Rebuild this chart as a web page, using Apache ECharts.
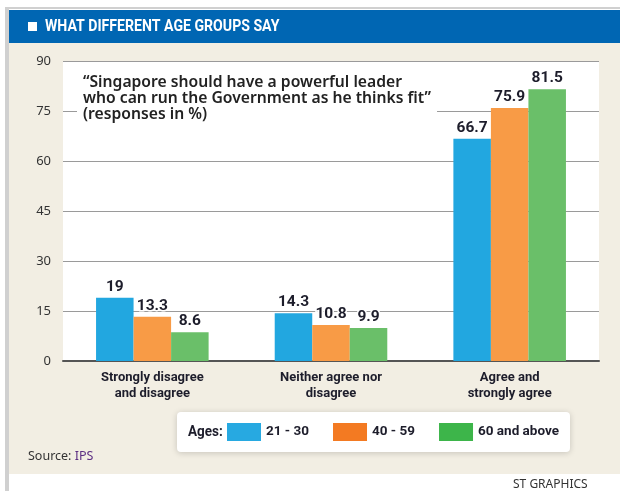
<!DOCTYPE html>
<html><head><meta charset="utf-8">
<script src="https://cdn.jsdelivr.net/npm/echarts@6/dist/echarts.min.js"></script>
<style>html,body{margin:0;padding:0;background:#fff}#c{width:620px;height:491px}</style>
</head><body><div id="c"></div>
<script>
const categories = ['Strongly disagree\nand disagree', 'Neither agree nor\ndisagree', 'Agree and\nstrongly agree'];
const seriesNames = ['21 - 30', '40 - 59', '60 and above'];
const age21to30 = [19, 14.3, 66.7];
const age40to59 = [13.3, 10.8, 75.9];
const age60plus = [8.6, 9.9, 81.5];
const yMin = 0, yMax = 90, yStep = 15;
const titleText = 'WHAT DIFFERENT AGE GROUPS SAY';
const noteText = '\u201cSingapore should have a powerful leader\nwho can run the Government as he thinks fit\u201d\n(responses in %)';

const COND = "Roboto,sans-serif";
const barColors = ['#22A7E0', '#F89B46', '#6ABF69'];
const legendColors = ['#27A9E1', '#F37A22', '#3DB54A'];
const values = [age21to30, age40to59, age60plus];

const chart = echarts.init(document.getElementById('c'));
chart.setOption({
  backgroundColor: '#ffffff',
  animation: false,
  grid: { left: 63, right: 21, top: 61, bottom: 130, containLabel: false },
  xAxis: {
    type: 'category', data: categories,
    axisLine: { lineStyle: { color: '#555', width: 2 } },
    axisTick: { show: false },
    axisLabel: { margin: 9, color: '#1d1d2b', fontFamily: COND, fontSize: 13, lineHeight: 16, fontWeight: 'bold' }
  },
  yAxis: {
    type: 'value', min: yMin, max: yMax, interval: yStep,
    axisLine: { show: false }, axisTick: { show: false },
    splitLine: { lineStyle: { color: '#9a9a9a', width: 1.2 } },
    axisLabel: { margin: 12, color: '#333', fontFamily: "'Noto Sans',sans-serif", fontSize: 13 }
  },
  legend: {
    left: 177, top: 412,
    padding: [11, 11, 11, 50],
    backgroundColor: '#fff', borderRadius: 4,
    shadowBlur: 6, shadowColor: 'rgba(0,0,0,0.18)', shadowOffsetY: 1,
    itemWidth: 34, itemHeight: 18, itemGap: 24,
    icon: 'rect',
    textStyle: { color: '#1d1d2b', fontFamily: COND, fontSize: 13.5, fontWeight: 'bold' },
    data: seriesNames.map((n, i) => ({ name: n, itemStyle: { color: legendColors[i] } }))
  },
  graphic: [
    { type: 'rect', z: -10, shape: { x: 5, y: 7, width: 615, height: 484 }, style: { fill: '#d0d0d0' } },
    { type: 'rect', z: -9, shape: { x: 9, y: 9, width: 611, height: 482 }, style: { fill: '#ffffff' } },
    { type: 'rect', z: -8, shape: { x: 9, y: 10, width: 611, height: 464 }, style: { fill: '#F2EEE3' } },
    { type: 'rect', z: -7, shape: { x: 9, y: 10, width: 611, height: 33 }, style: { fill: '#0066B3' } },
    { type: 'rect', z: -7, shape: { x: 63, y: 61, width: 536, height: 300 }, style: { fill: '#ffffff' } },
    { type: 'rect', z: 5, shape: { x: 28, y: 22, width: 9, height: 9 }, style: { fill: '#ffffff' } },
    { type: 'text', z: 5, x: 45, y: 27, scaleX: 0.83, style: { text: titleText, fill: '#fff', font: "bold 17px Roboto,sans-serif", verticalAlign: 'middle' } },
    { type: 'text', z: 10, x: 77, y: 75, style: { text: noteText, fill: '#222', font: "600 15.7px 'Noto Sans',sans-serif", lineHeight: 16, backgroundColor: '#fff', padding: [0, 6, 0, 6] } },
    { type: 'text', z: 10, x: 188, y: 432, scaleX: 0.9, style: { text: 'Ages:', fill: '#1d1d2b', font: "bold 15px Roboto,sans-serif", verticalAlign: 'middle' } },
    { type: 'text', z: 5, x: 28, y: 456, style: { rich: { a: { fill: '#333', font: "12.5px 'Noto Sans',sans-serif" }, b: { fill: '#5b2d82', font: "12.5px 'Noto Sans',sans-serif" } }, text: '{a|Source: }{b|IPS}', verticalAlign: 'middle' } },
    { type: 'text', z: 5, x: 513, y: 485, style: { text: 'ST GRAPHICS', fill: '#333', font: "12px 'Noto Sans',sans-serif", verticalAlign: 'middle' } }
  ],
  series: seriesNames.map((n, i) => ({
    name: n, type: 'bar', data: values[i],
    barGap: '0%', barCategoryGap: '37%',
    itemStyle: { color: barColors[i] },
    label: {
      show: true, position: 'top', distance: 3,
      color: '#1d1d2b', fontFamily: COND, fontSize: 15.5, fontWeight: 'bold',
      textBorderColor: '#fff', textBorderWidth: 3
    }
  }))
});
</script></body></html>
